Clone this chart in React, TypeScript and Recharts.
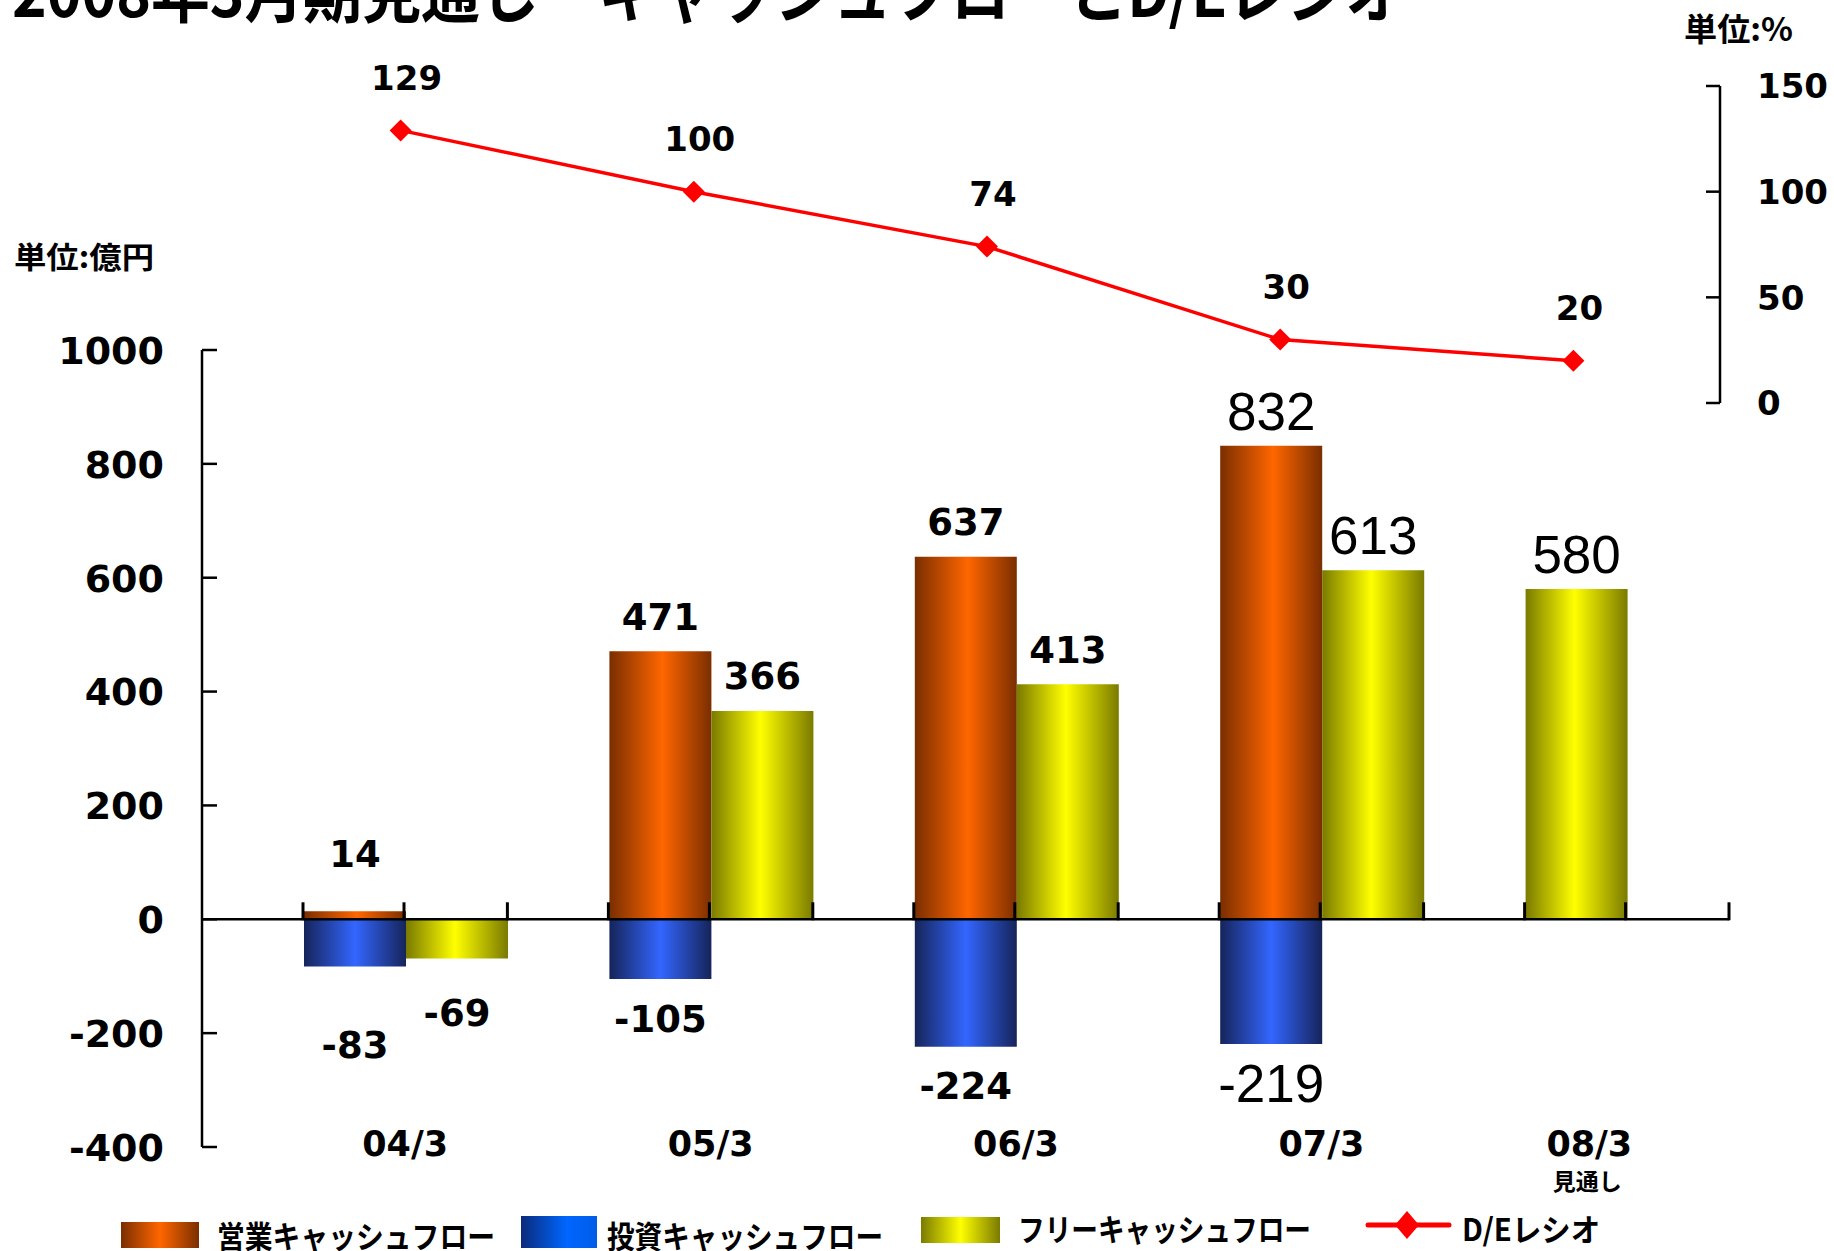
import React from 'react';
import { ComposedChart, Bar, Line, XAxis, YAxis, ReferenceLine, LabelList } from 'recharts';

// ---------------- data ----------------
const categories = ['04/3', '05/3', '06/3', '07/3', '08/3'];
const operatingCF: (number | null)[] = [14, 471, 637, 832, null];
const investingCF: (number | null)[] = [-83, -105, -224, -219, null];
const freeCF: (number | null)[] = [-69, 366, 413, 613, null];
const freeCFForecast: (number | null)[] = [null, null, null, null, 580];
const deRatio = [129, 100, 74, 30, 20];
const leftTicks = [-400, -200, 0, 200, 400, 600, 800, 1000];
const rightTicks = [0, 50, 100, 150];
const seriesNames = ['営業キャッシュフロー', '投資キャッシュフロー', 'フリーキャッシュフロー', 'D/Eレシオ'];
const titleText = '2008年3月期見通し　キャッシュフローとD/Eレシオ';
const leftUnit = '単位:億円';
const rightUnit = '単位:%';
const forecastNote = '見通し';

const data = categories.map((cat, i) => ({
  cat,
  pad: null as number | null,
  op: operatingCF[i],
  inv: investingCF[i],
  fcfF: freeCFForecast[i],
  fcf: freeCF[i],
  de: deRatio[i],
}));

// ---------------- layout ----------------
const W = 1834;
const H = 1251;
const BAR_PLOT = { left: 202, right: 1729, top: 350, bottom: 1147 };
const LEFT_DOMAIN: [number, number] = [-400, 1000];
const LINE_PLOT = { left: 254, right: 1720, top: 86, bottom: 403 };
const RIGHT_DOMAIN: [number, number] = [0, 150];
const Y_AXIS_W = 60;
const X_AXIS_H = 40;
const R_AXIS_W = 80;

const ZERO_Y =
  BAR_PLOT.top +
  ((LEFT_DOMAIN[1] - 0) / (LEFT_DOMAIN[1] - LEFT_DOMAIN[0])) * (BAR_PLOT.bottom - BAR_PLOT.top);
const BAND_W = (BAR_PLOT.right - BAR_PLOT.left) / categories.length;
const SLOT_W = Math.floor(BAND_W / 3);
const LINE_BAND = (LINE_PLOT.right - LINE_PLOT.left) / categories.length;

const CJK = '"Noto Sans CJK JP", "Noto Sans CJK SC", sans-serif';
const NUM_BOLD = { fontFamily: '"DejaVu Sans", sans-serif', fontWeight: 700 as const };
const NUM_REG = { fontFamily: '"Liberation Sans", Arial, sans-serif', fontWeight: 400 as const };

// ---------------- ticks ----------------
const LeftTick = (props: any) => {
  const { y, payload } = props;
  const ax = BAR_PLOT.left;
  const fs = 38;
  return (
    <g>
      <line x1={ax} x2={ax + 15} y1={y} y2={y} stroke="#000" strokeWidth={2.5} />
      <text x={ax - 38} y={y + 0.365 * fs} textAnchor="end" fontSize={fs} fill="#000" {...NUM_BOLD}>
        {payload.value}
      </text>
    </g>
  );
};

const RightTick = (props: any) => {
  const { y, payload } = props;
  const ax = LINE_PLOT.right;
  const fs = 34;
  return (
    <g>
      <line x1={ax - 14} x2={ax} y1={y} y2={y} stroke="#000" strokeWidth={2.5} />
      <text x={ax + 37} y={y + 0.365 * fs} textAnchor="start" fontSize={fs} fill="#000" {...NUM_BOLD}>
        {payload.value}
      </text>
    </g>
  );
};

const CategoryTick = (props: any) => {
  const { x, payload } = props;
  const i = categories.indexOf(payload.value);
  const bandStart = x - BAND_W / 2;
  const marks = [bandStart + SLOT_W, bandStart + 2 * SLOT_W, bandStart + BAND_W];
  const isLast = i === categories.length - 1;
  const lx = isLast ? x + 13 : x + SLOT_W / 2;
  const fs = 35;
  return (
    <g>
      {marks.map((mx, k) => (
        <line key={k} x1={mx} x2={mx} y1={ZERO_Y + 1} y2={ZERO_Y - 17} stroke="#000" strokeWidth={3} />
      ))}
      <text x={lx} y={1143 + 0.365 * fs} textAnchor="middle" fontSize={fs} fill="#000" {...NUM_BOLD}>
        {payload.value}
      </text>
      {isLast && (
        <text x={lx - 2} y={1190} textAnchor="middle" fontSize={23} fontWeight={700} fontFamily={CJK} fill="#000">
          {forecastNote}
        </text>
      )}
    </g>
  );
};

// ---------------- labels ----------------
const firstCategoryExtra: Record<string, number> = { op: -23, inv: 39, fcf: 15, fcfF: 0 };

const makeBarLabel = (key: string) => (props: any) => {
  const value = props.value;
  if (value === null || value === undefined) return null;
  const vb = props.viewBox || props;
  const x = Number(vb.x);
  const y = Number(vb.y);
  const w = Number(vb.width);
  const h = Number(vb.height);
  const top = Math.min(y, y + h);
  const bottom = Math.max(y, y + h);
  const cx = x + w / 2;
  // category index from the bar's position in the plot
  const idx = Math.max(0, Math.min(categories.length - 1, Math.floor((cx - BAR_PLOT.left) / BAND_W)));
  const regular = idx >= 3;
  const fs = regular ? 53 : 37;
  const capHalf = regular ? 0.358 * fs : 0.365 * fs;
  let cy = value >= 0 ? top - 35 : bottom + 39;
  if (idx === 0) cy += firstCategoryExtra[key] || 0;
  return (
    <text
      key={`${key}-${idx}`}
      x={cx}
      y={cy + capHalf}
      textAnchor="middle"
      fontSize={fs}
      fill="#000"
      {...(regular ? NUM_REG : NUM_BOLD)}
    >
      {value}
    </text>
  );
};

const renderDeLabel = (props: any) => {
  const value = props.value;
  if (value === null || value === undefined) return null;
  const vb = props.viewBox || props;
  const x = Number(vb.x ?? props.x);
  const y = Number(vb.y ?? props.y);
  const fs = 34;
  return (
    <text key={`de-${x}`} x={x + 6} y={y - 53 + 0.365 * fs} textAnchor="middle" fontSize={fs} fill="#000" {...NUM_BOLD}>
      {value}
    </text>
  );
};

const renderDiamond = (props: any) => {
  const { cx, cy, index } = props;
  if (cx == null || cy == null) return <g key={`dd${index}`} />;
  const r = 11;
  return (
    <path key={`dd${index}`} d={`M${cx},${cy - r}L${cx + r},${cy}L${cx},${cy + r}L${cx - r},${cy}Z`} fill="#FF0000" />
  );
};

// ---------------- component ----------------
export default function App() {
  const barMargin = {
    top: BAR_PLOT.top,
    left: BAR_PLOT.left - Y_AXIS_W,
    right: W - BAR_PLOT.right,
    bottom: H - BAR_PLOT.bottom - X_AXIS_H,
  };
  const lineMargin = {
    top: LINE_PLOT.top,
    left: LINE_PLOT.left,
    right: W - LINE_PLOT.right - R_AXIS_W,
    bottom: H - LINE_PLOT.bottom,
  };

  return (
    <div style={{ position: 'absolute', left: 0, top: 0, width: W, height: H, background: '#fff', overflow: 'hidden' }}>
      {/* texts */}
      <svg width={W} height={H} style={{ position: 'absolute', left: 0, top: 0 }}>
        <text x={12} y={17} fontSize={66} fontWeight={700} fontFamily={CJK} fill="#000" textLength={1392} lengthAdjust="spacingAndGlyphs">
          {titleText}
        </text>
        <text x={14} y={268} fontSize={30} fontWeight={700} fontFamily={CJK} fill="#000" textLength={140} lengthAdjust="spacingAndGlyphs">
          {leftUnit}
        </text>
        <text x={1684} y={41} fontSize={32} fontWeight={700} fontFamily={CJK} fill="#000" textLength={109} lengthAdjust="spacingAndGlyphs">
          {rightUnit}
        </text>
      </svg>

      {/* bars */}
      <div style={{ position: 'absolute', left: 0, top: 0 }}>
        <ComposedChart width={W} height={H} data={data} margin={barMargin} barCategoryGap={0} barGap={0} stackOffset="sign">
          <defs>
            <linearGradient id="gOrange" x1="0" y1="0" x2="1" y2="0">
              <stop offset="0%" stopColor="#7A2E00" />
              <stop offset="52%" stopColor="#FF6600" />
              <stop offset="100%" stopColor="#7A2E00" />
            </linearGradient>
            <linearGradient id="gBlue" x1="0" y1="0" x2="1" y2="0">
              <stop offset="0%" stopColor="#16245A" />
              <stop offset="50%" stopColor="#3366FF" />
              <stop offset="100%" stopColor="#16245A" />
            </linearGradient>
            <linearGradient id="gYellow" x1="0" y1="0" x2="1" y2="0">
              <stop offset="0%" stopColor="#7A7A00" />
              <stop offset="48%" stopColor="#FFFF00" />
              <stop offset="100%" stopColor="#7A7A00" />
            </linearGradient>
          </defs>
          <XAxis
            dataKey="cat"
            height={X_AXIS_H}
            axisLine={false}
            tickLine={false}
            interval={0}
            tick={(p: any) => <CategoryTick {...p} />}
          />
          <YAxis
            width={Y_AXIS_W}
            domain={LEFT_DOMAIN}
            ticks={leftTicks}
            allowDataOverflow
            interval={0}
            tickSize={0}
            tickMargin={38}
            tickLine={false}
            axisLine={{ stroke: '#000', strokeWidth: 2.5 }}
            tick={(p: any) => <LeftTick {...p} />}
          />
          <Bar dataKey="pad" stackId="p" fill="none" legendType="none" isAnimationActive={false} />
          <Bar dataKey="op" stackId="a" fill="url(#gOrange)" isAnimationActive={false}>
            <LabelList dataKey="op" content={makeBarLabel('op')} />
          </Bar>
          <Bar dataKey="inv" stackId="a" fill="url(#gBlue)" isAnimationActive={false}>
            <LabelList dataKey="inv" content={makeBarLabel('inv')} />
          </Bar>
          <Bar dataKey="fcfF" stackId="a" fill="url(#gYellow)" legendType="none" isAnimationActive={false}>
            <LabelList dataKey="fcfF" content={makeBarLabel('fcfF')} />
          </Bar>
          <Bar dataKey="fcf" stackId="b" fill="url(#gYellow)" isAnimationActive={false}>
            <LabelList dataKey="fcf" content={makeBarLabel('fcf')} />
          </Bar>
          <ReferenceLine y={0} stroke="#000" strokeWidth={2.5} />
        </ComposedChart>
      </div>

      {/* D/E line */}
      <div style={{ position: 'absolute', left: 0, top: 0 }}>
        <ComposedChart width={W} height={H} data={data} margin={lineMargin}>
          <XAxis
            dataKey="cat"
            hide
            scale="point"
            padding={{ left: LINE_BAND / 2, right: LINE_BAND / 2 }}
          />
          <YAxis
            orientation="right"
            width={R_AXIS_W}
            domain={RIGHT_DOMAIN}
            ticks={rightTicks}
            allowDataOverflow
            interval={0}
            tickSize={0}
            tickMargin={37}
            tickLine={false}
            axisLine={{ stroke: '#000', strokeWidth: 2.5 }}
            tick={(p: any) => <RightTick {...p} />}
          />
          <Line
            dataKey="de"
            stroke="#FF0000"
            strokeWidth={3.5}
            dot={renderDiamond}
            activeDot={false}
            isAnimationActive={false}
          >
            <LabelList dataKey="de" content={renderDeLabel} />
          </Line>
        </ComposedChart>
      </div>

      {/* legend */}
      <svg width={W} height={H} style={{ position: 'absolute', left: 0, top: 0 }}>
        <defs>
          <linearGradient id="lgOrange" x1="0" y1="0" x2="1" y2="0">
            <stop offset="0%" stopColor="#7A2E00" />
            <stop offset="50%" stopColor="#FF6600" />
            <stop offset="100%" stopColor="#7A2E00" />
          </linearGradient>
          <linearGradient id="lgBlue" x1="0" y1="0" x2="1" y2="0">
            <stop offset="0%" stopColor="#0A2A7A" />
            <stop offset="60%" stopColor="#0066FF" />
            <stop offset="100%" stopColor="#005CE8" />
          </linearGradient>
          <linearGradient id="lgYellow" x1="0" y1="0" x2="1" y2="0">
            <stop offset="0%" stopColor="#7A7A00" />
            <stop offset="50%" stopColor="#FFFF00" />
            <stop offset="100%" stopColor="#7A7A00" />
          </linearGradient>
        </defs>
        <rect x={121} y={1222} width={78} height={26} fill="url(#lgOrange)" />
        <text x={217} y={1248} fontSize={31} fontWeight={700} fontFamily={CJK} fill="#000" textLength={278} lengthAdjust="spacingAndGlyphs">
          {seriesNames[0]}
        </text>
        <rect x={521} y={1216} width={76} height={32} fill="url(#lgBlue)" />
        <text x={607} y={1248} fontSize={31} fontWeight={700} fontFamily={CJK} fill="#000" textLength={276} lengthAdjust="spacingAndGlyphs">
          {seriesNames[1]}
        </text>
        <rect x={921} y={1217} width={79} height={26} fill="url(#lgYellow)" />
        <text x={1018} y={1241} fontSize={31} fontWeight={700} fontFamily={CJK} fill="#000" textLength={293} lengthAdjust="spacingAndGlyphs">
          {seriesNames[2]}
        </text>
        <line x1={1368} x2={1449} y1={1225} y2={1225} stroke="#FF0000" strokeWidth={5} strokeLinecap="round" />
        <path d="M1407,1211L1419,1225L1407,1239L1395,1225Z" fill="#FF0000" />
        <text x={1462} y={1241} fontSize={31} fontWeight={700} fontFamily={CJK} fill="#000" textLength={138} lengthAdjust="spacingAndGlyphs">
          {seriesNames[3]}
        </text>
      </svg>
    </div>
  );
}
